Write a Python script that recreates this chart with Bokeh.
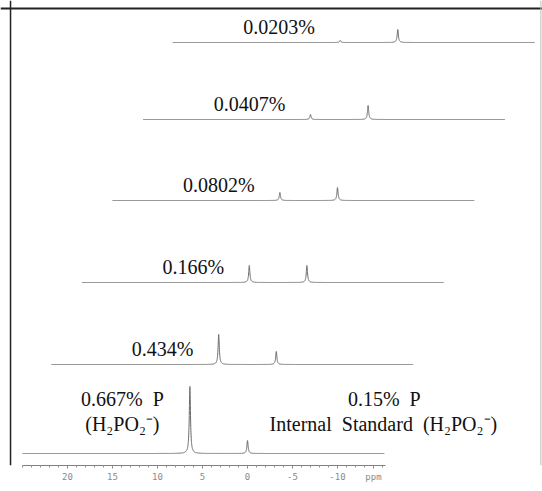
import numpy as np
from bokeh.plotting import figure
from bokeh.models import Range1d, LinearAxis, FixedTicker, Span, Label
from bokeh.embed import file_html
from bokeh.resources import INLINE

# ---------------- data ----------------
concentrations = ["0.667%", "0.434%", "0.166%", "0.0802%", "0.0407%", "0.0203%"]
peak_ppm = [6.4, 0.0]                       # sample H2PO2-, internal standard
analyte_height = [67, 30, 17, 8, 5, 2]      # peak heights (arbitrary units)
standard_height = [13, 13, 17, 13, 14, 13]
spectral_window = [25.0, -15.2]             # ppm span of each trace
tick_values = [20, 15, 10, 5, 0, -5, -10]
tick_labels = ["20", "15", "10", "5", "0", "-5", "-10"]
unit_label = "ppm"

# ---------------- layout (stacked-plot offsets) ----------------
stack_dx = [0.0, -3.2, -6.6, -10.0, -13.4, -16.7]   # ppm shift of each trace
stack_dy = [12, 101, 183, 265, 346, 423]            # vertical offset of each trace
LW = 0.08                                            # line half width (ppm)
SP = " \u00a0"                                      # wide gap between words
TXT_UP = 16                                          # label lift above a trace


def lorentz(x, x0, w=LW):
    return w * w / ((x - x0) ** 2 + w * w)


p = figure(width=542, height=491, output_backend="svg", toolbar_location=None,
           x_range=Range1d(27.444, -32.778), y_range=Range1d(0, 465),
           x_axis_location=None, y_axis_location=None,
           min_border_left=0, min_border_right=0, min_border_top=0,
           min_border_bottom=26)
p.grid.visible = False
p.outline_line_color = None
p.background_fill_color = "white"
p.border_fill_color = "white"

grid = np.linspace(spectral_window[0], spectral_window[1], 4021)
xs, ys = [], []
for i in range(len(concentrations)):
    sig = (analyte_height[i] * lorentz(grid, peak_ppm[0])
           + standard_height[i] * lorentz(grid, peak_ppm[1]))
    xs.append(grid + stack_dx[i])
    ys.append(sig + stack_dy[i])
p.multi_line(xs, ys, line_color="#6a6a6a", line_width=1)

serif = "Liberation Serif"
# concentration labels for the stacked traces
for i in range(1, len(concentrations)):
    p.add_layout(Label(x=peak_ppm[0] + stack_dx[i] + 2.8, y=stack_dy[i] + TXT_UP,
                       text=concentrations[i], text_align="right",
                       text_baseline="alphabetic", text_font=serif,
                       text_font_size="20px", text_color="#111111"))

for x, y, t in [(13.9, 67, concentrations[0] + SP + "P"),
                (13.9, 42, "(H\u2082PO\u2082\u207b)"),
                (-15.2, 67, "0.15%" + SP + "P"),
                (-15.1, 42, "Internal" + SP + "Standard" + SP + "(H\u2082PO\u2082\u207b)")]:
    p.add_layout(Label(x=x, y=y, text=t, text_align="center",
                       text_baseline="alphabetic", text_font=serif,
                       text_font_size="20px", text_color="#111111"))

# ppm axis under the bottom trace
overrides = {v: s for v, s in zip(tick_values, tick_labels)}
overrides[-14] = unit_label
ax = LinearAxis(ticker=FixedTicker(ticks=tick_values + [-14],
                                   minor_ticks=list(range(-15, 26))),
                bounds=(-15.3, 25), major_label_overrides=overrides)
ax.axis_line_color = "#808080"
ax.major_tick_line_color = "#808080"
ax.minor_tick_line_color = "#909090"
ax.major_tick_in = 0
ax.major_tick_out = 3
ax.minor_tick_in = 0
ax.minor_tick_out = 2
ax.major_label_standoff = 3
ax.major_label_text_font = "DejaVu Sans Mono"
ax.major_label_text_font_size = "9px"
ax.major_label_text_color = "#8a8a8a"
p.add_layout(ax, "below")

# frame lines
p.add_layout(Span(location=26.33, dimension="height", line_color="#222222", line_width=1.5))
p.add_layout(Span(location=457, dimension="width", line_color="#222222", line_width=2))
p.add_layout(Span(location=-32.6, dimension="height", line_color="#bbbbbb", line_width=1))

open("out.html", "w").write(file_html(p, INLINE))
